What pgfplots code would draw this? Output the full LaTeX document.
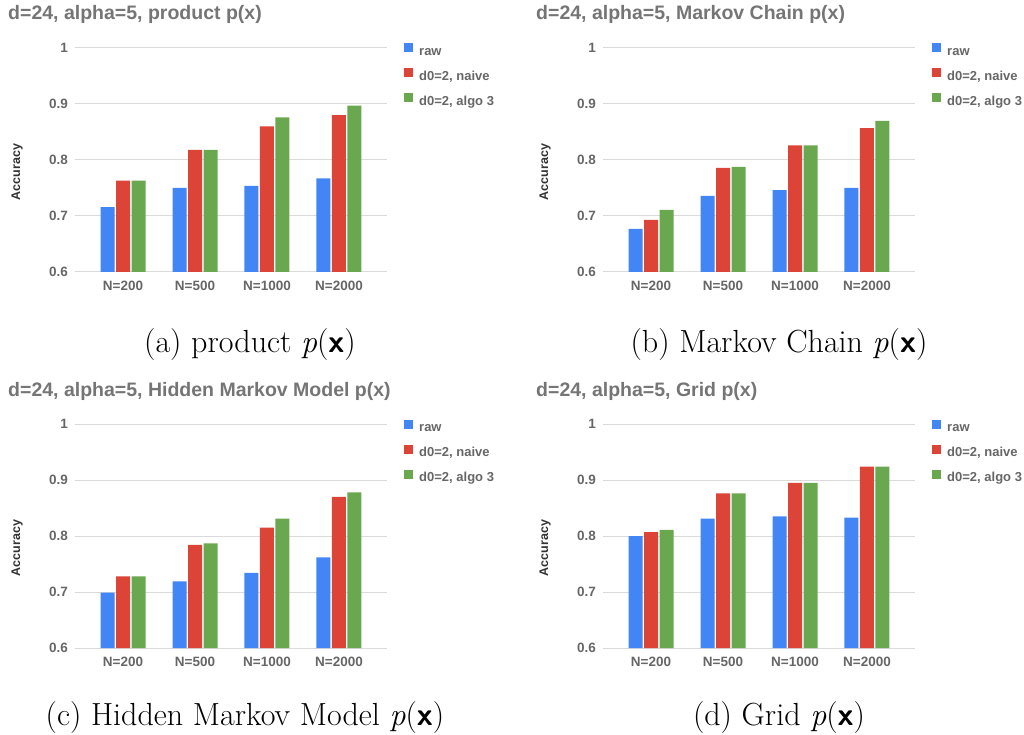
\documentclass[border=0pt]{standalone}
\usepackage{fontspec}
\usepackage{pgfplots}
\usepackage{pgfplotstable}
\pgfplotsset{compat=1.18}
\newfontfamily\chartfont{Liberation Sans}
\definecolor{gblue}{HTML}{4285F4}
\definecolor{gred}{HTML}{DB4437}
\definecolor{ggreen}{HTML}{6AA84F}
\definecolor{gridc}{HTML}{DADADA}
\definecolor{tickc}{HTML}{666666}
\definecolor{titlec}{HTML}{757575}
\definecolor{labc}{HTML}{333333}
\newcommand{\px}{\textit{p}\/(\textsf{\textbf{x}})}

% x: 0=N=200, 1=N=500, 2=N=1000, 3=N=2000
\pgfplotstableread{
x raw naive algo
0 0.716 0.763 0.763
1 0.750 0.818 0.818
2 0.754 0.860 0.876
3 0.767 0.880 0.897
}\tabA
\pgfplotstableread{
x raw naive algo
0 0.677 0.693 0.711
1 0.736 0.786 0.7875
2 0.746 0.826 0.826
3 0.750 0.857 0.870
}\tabB
\pgfplotstableread{
x raw naive algo
0 0.699 0.728 0.728
1 0.719 0.784 0.787
2 0.734 0.815 0.831
3 0.762 0.870 0.878
}\tabC
\pgfplotstableread{
x raw naive algo
0 0.800 0.807 0.811
1 0.831 0.876 0.876
2 0.835 0.895 0.895
3 0.833 0.924 0.924
}\tabD

\pgfplotsset{
  chart/.style={
    scale only axis, width=312pt, height=224pt,
    ybar=1.5pt, bar width=14pt,
    ymin=0.6, ymax=1, ytick={0.6,0.7,0.8,0.9,1},
    xmin=-0.667, xmax=3.667, xtick={0,1,2,3},
    xticklabels={N=200,N=500,N=1000,N=2000},
    axis line style={draw=none}, major tick length=0pt,
    ymajorgrids, grid style={gridc, line width=1pt},
    /pgf/number format/assume math mode=true,
    yticklabel style={font=\chartfont\bfseries\fontsize{13.5}{16}\selectfont, text=tickc, inner sep=0pt, xshift=-7pt},
    xticklabel style={font=\chartfont\bfseries\fontsize{13.5}{16}\selectfont, text=tickc, inner sep=0pt, yshift=-9pt},
    ylabel={Accuracy},
    every axis y label/.style={at={([xshift=-58pt,yshift=-12pt]axis description cs:0,0.5)}, rotate=90, anchor=center,
      font=\chartfont\bfseries\fontsize{12.5}{15}\selectfont, text=labc, inner sep=0pt},
    title style={at={(axis description cs:0,1)}, anchor=base west, xshift=-67pt, yshift=22pt, inner sep=0pt,
      font=\chartfont\bfseries\fontsize{19.5}{22}\selectfont, text=titlec},
    legend style={at={(axis description cs:1,1)}, anchor=north west, xshift=17pt, yshift=4.7pt,
      draw=none, fill=none, inner sep=0pt,
      font=\chartfont\bfseries\fontsize{13}{15}\selectfont, text=tickc,
      nodes={inner sep=0pt, text height=10pt, text depth=3pt},
      column sep=6pt, row sep=10pt},
    legend cell align=left,
    legend image code/.code={\path[##1] (0pt,-0.5pt) rectangle (9pt,8.5pt);},
  },
  rawb/.style={fill=gblue, draw=none},
  naiveb/.style={fill=gred, draw=none},
  algob/.style={fill=ggreen, draw=none},
}

\begin{document}
\begin{tikzpicture}
\useasboundingbox (0pt,0pt) rectangle (1024pt,734pt);

% (a)
\begin{axis}[chart, at={(75pt,462pt)}, anchor=south west, title={d=24, alpha=5, product p(x)}]
\addplot[rawb] table[x=x,y=raw]{\tabA};
\addplot[naiveb] table[x=x,y=naive]{\tabA};
\addplot[algob] table[x=x,y=algo]{\tabA};
\legend{raw, {d0=2, naive}, {d0=2, algo 3}}
\end{axis}

% (b)
\begin{axis}[chart, at={(603pt,462pt)}, anchor=south west, title={d=24, alpha=5, Markov Chain p(x)}]
\addplot[rawb] table[x=x,y=raw]{\tabB};
\addplot[naiveb] table[x=x,y=naive]{\tabB};
\addplot[algob] table[x=x,y=algo]{\tabB};
\legend{raw, {d0=2, naive}, {d0=2, algo 3}}
\end{axis}

% (c)
\begin{axis}[chart, at={(75pt,86pt)}, anchor=south west, title={d=24, alpha=5, Hidden Markov Model p(x)}]
\addplot[rawb] table[x=x,y=raw]{\tabC};
\addplot[naiveb] table[x=x,y=naive]{\tabC};
\addplot[algob] table[x=x,y=algo]{\tabC};
\legend{raw, {d0=2, naive}, {d0=2, algo 3}}
\end{axis}

% (d)
\begin{axis}[chart, at={(603pt,86pt)}, anchor=south west, title={d=24, alpha=5, Grid p(x)}]
\addplot[rawb] table[x=x,y=raw]{\tabD};
\addplot[naiveb] table[x=x,y=naive]{\tabD};
\addplot[algob] table[x=x,y=algo]{\tabD};
\legend{raw, {d0=2, naive}, {d0=2, algo 3}}
\end{axis}

\node[anchor=base, font=\fontsize{32}{36}\selectfont] at (250pt,381pt) {(a) product \px};
\node[anchor=base, font=\fontsize{32}{36}\selectfont] at (779pt,381pt) {(b) Markov Chain \px};
\node[anchor=base, font=\fontsize{32}{36}\selectfont] at (245pt,9pt) {(c) Hidden Markov Model \px};
\node[anchor=base, font=\fontsize{32}{36}\selectfont] at (779pt,9pt) {(d) Grid \px};
\end{tikzpicture}
\end{document}
